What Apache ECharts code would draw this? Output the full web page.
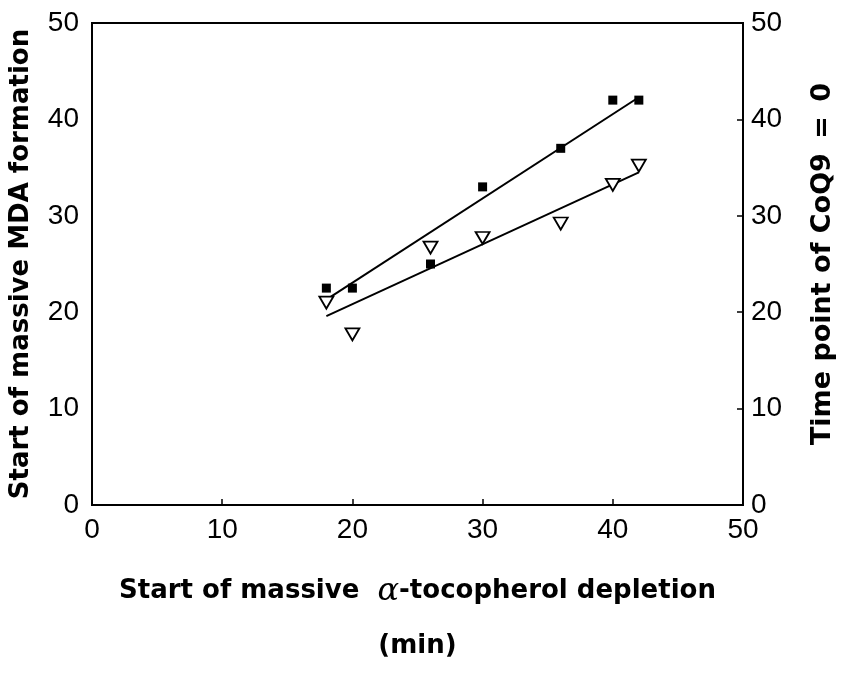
<!DOCTYPE html>
<html>
<head>
<meta charset="utf-8">
<script src="https://cdn.jsdelivr.net/npm/echarts@6/dist/echarts.min.js"></script>
<style>
html,body{margin:0;padding:0;background:#fff;}
#chart{width:844px;height:679px;}
</style>
</head>
<body>
<div id="chart"></div>
<script>
// Data
const tocopherolDepletion = [18, 20, 26, 30, 36, 40, 42];      // x (min)
const mdaStart = [22.5, 22.5, 25, 33, 37, 42, 42];              // filled squares
const coq9Zero = [21, 17.7, 26.7, 27.7, 29.2, 33.2, 35.2];      // open triangles
const mdaFitX = [18, 42];
const mdaFitY = [21.3, 42.3];
const coq9FitX = [18, 42];
const coq9FitY = [19.6, 34.5];
const axisTicks = [0, 10, 20, 30, 40, 50];

const zip = (xs, ys) => xs.map((x, i) => [x, ys[i]]);

const tickFont = {fontFamily: '"Liberation Sans", Arial, sans-serif', fontSize: 28, color: '#000'};
const titleFont = '"DejaVu Sans", sans-serif';

const chart = echarts.init(document.getElementById('chart'));
chart.setOption({
  animation: false,
  backgroundColor: '#fff',
  grid: {left: 86, right: 82, top: 23, bottom: 157, show: true, borderColor: '#000', borderWidth: 2},
  xAxis: {
    type: 'value', min: axisTicks[0], max: axisTicks[axisTicks.length - 1], interval: 10,
    axisLine: {onZero: false, lineStyle: {color: '#000', width: 2}},
    axisTick: {inside: true, length: 6, lineStyle: {color: '#000', width: 1.5}},
    splitLine: {show: false},
    axisLabel: Object.assign({margin: 11}, tickFont),
    name: '{a|Start of massive  }{g|α}{a|-tocopherol depletion}\n{a|(min)}',
    nameLocation: 'middle', nameGap: 59,
    nameTextStyle: {
      lineHeight: 55,
      rich: {
        a: {fontFamily: titleFont, fontWeight: 'bold', fontSize: 26, color: '#000', lineHeight: 55},
        g: {fontFamily: '"DejaVu Serif", serif', fontStyle: 'italic', fontSize: 32, color: '#000', lineHeight: 55}
      }
    }
  },
  yAxis: [{
    type: 'value', min: 0, max: 50, interval: 10, position: 'left',
    axisLine: {onZero: false, lineStyle: {color: '#000', width: 2}},
    axisTick: {show: false},
    splitLine: {show: false},
    axisLabel: Object.assign({margin: 13}, tickFont),
    name: 'Start of massive MDA formation',
    nameLocation: 'middle', nameGap: 58, nameRotate: 90,
    nameTextStyle: {fontFamily: titleFont, fontWeight: 'bold', fontSize: 26, color: '#000'}
  }, {
    type: 'value', min: 0, max: 50, interval: 10, position: 'right',
    axisLine: {onZero: false, lineStyle: {color: '#000', width: 2}},
    axisTick: {inside: true, length: 6, lineStyle: {color: '#000', width: 1.5}},
    splitLine: {show: false},
    axisLabel: Object.assign({margin: 8}, tickFont),
    name: '{t|Time point of CoQ9 }{e|=}{t| 0}',
    nameLocation: 'middle', nameGap: 66, nameRotate: 90,
    nameTextStyle: {
      rich: {
        t: {fontFamily: titleFont, fontWeight: 'bold', fontSize: 27, color: '#000'},
        e: {fontFamily: titleFont, fontWeight: 'bold', fontSize: 27, color: '#000', padding: [0, 5, 0, 5]}
      }
    }
  }],
  series: [{
    type: 'line', data: zip(mdaFitX, mdaFitY), showSymbol: false, symbol: 'none',
    lineStyle: {color: '#000', width: 2}, z: 2
  }, {
    type: 'line', data: zip(coq9FitX, coq9FitY), showSymbol: false, symbol: 'none',
    lineStyle: {color: '#000', width: 2}, z: 2
  }, {
    type: 'scatter', data: zip(tocopherolDepletion, mdaStart),
    symbol: 'rect', symbolSize: 9,
    itemStyle: {color: '#000', opacity: 1}, z: 3
  }, {
    type: 'scatter', data: zip(tocopherolDepletion, coq9Zero),
    symbol: 'path://M0,0 L12,0 L6,10 Z', symbolSize: [14, 12],
    itemStyle: {color: '#fff', borderColor: '#000', borderWidth: 1.8, opacity: 1}, z: 4
  }]
});
</script>
</body>
</html>
